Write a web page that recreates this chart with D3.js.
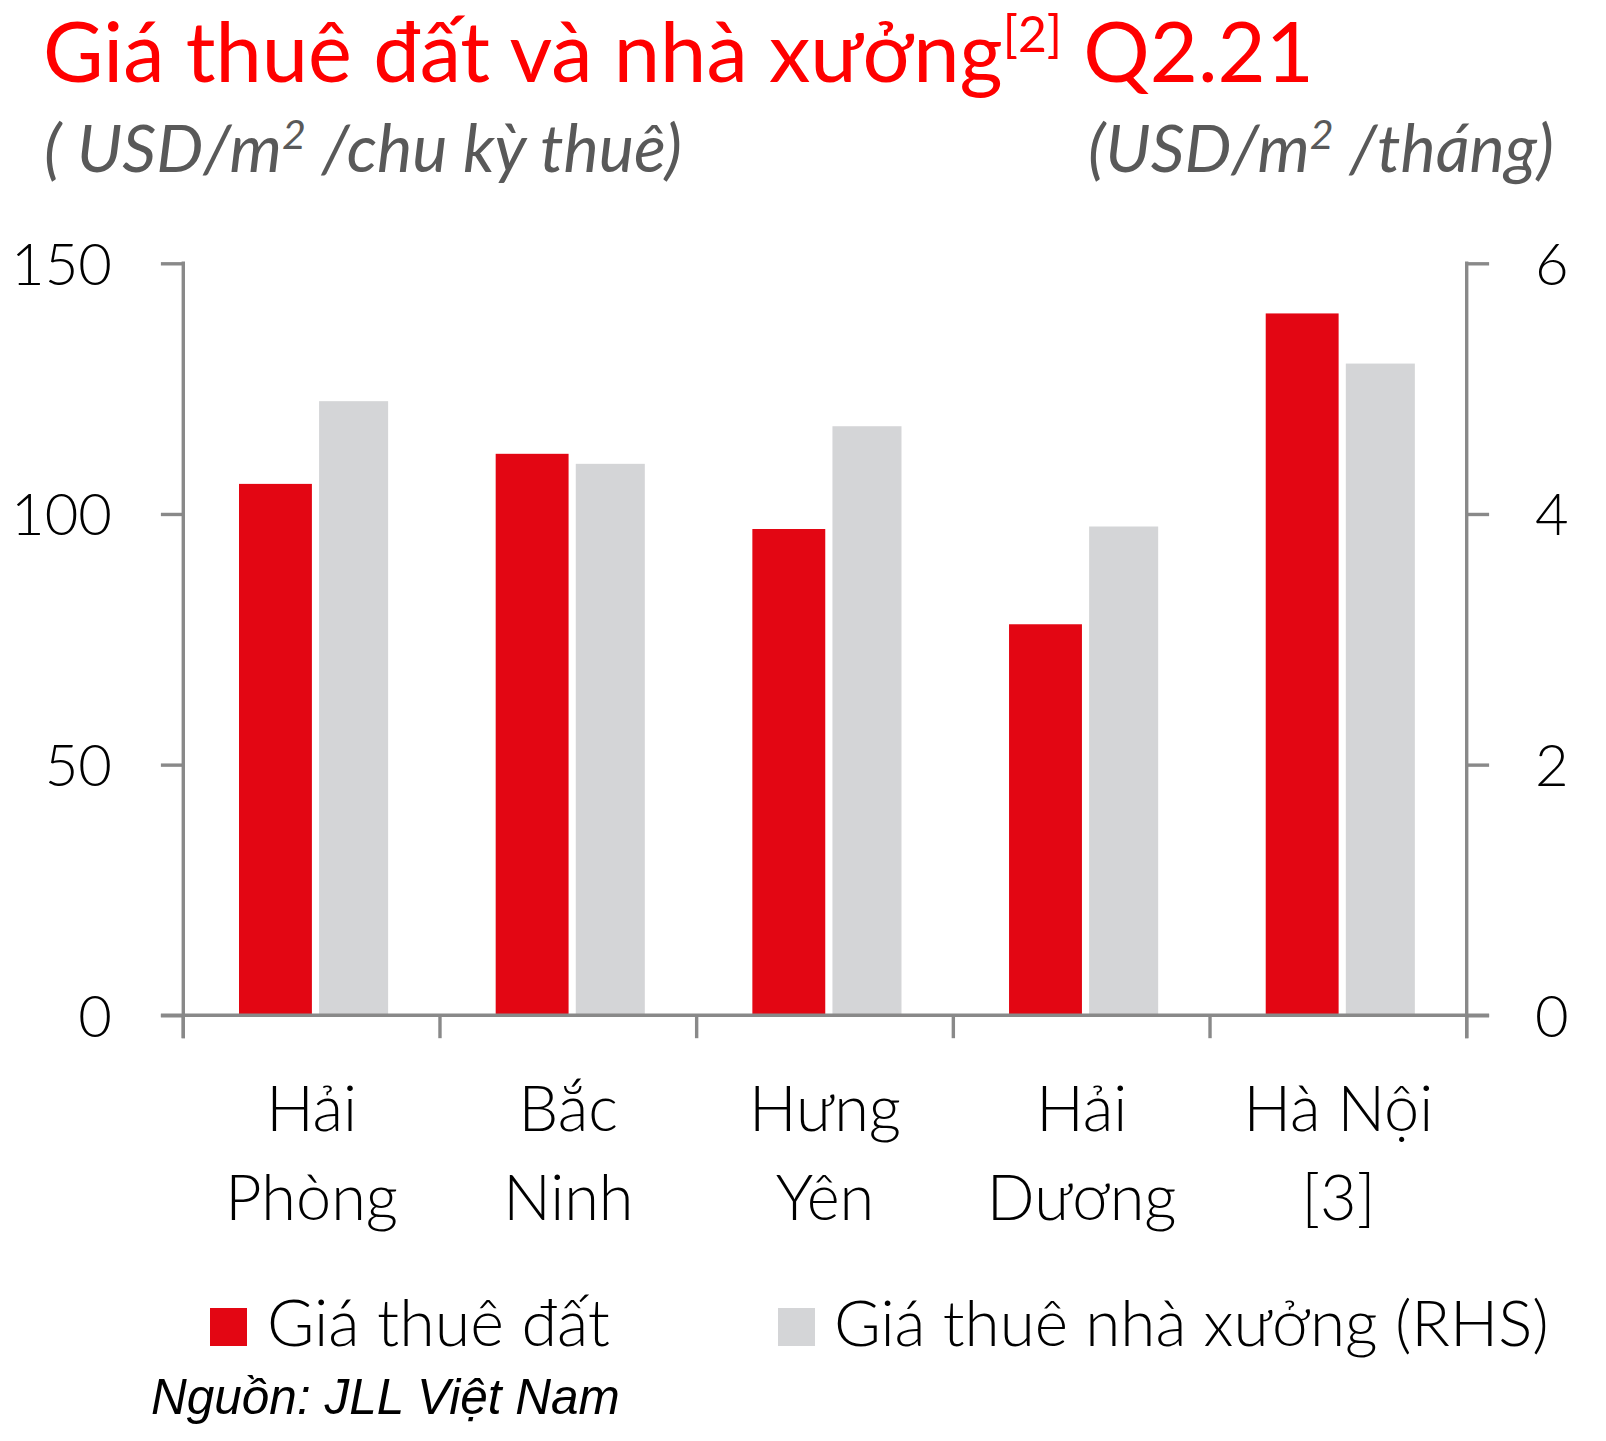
<!DOCTYPE html>
<html>
<head>
<meta charset="utf-8">
<script src="https://cdn.jsdelivr.net/npm/d3@7"></script>
<style>
  html, body { margin: 0; padding: 0; background: #ffffff; }
  svg { display: block; }
</style>
</head>
<body>
<svg id="chart" width="1606" height="1441"></svg>
<script>
// ---------- data ----------
const categories = [["Hải", "Phòng"], ["Bắc", "Ninh"], ["Hưng", "Yên"], ["Hải", "Dương"], ["Hà Nội", "[3]"]];
const landRent = [106, 112, 97, 78, 140];           // USD/m²/chu kỳ thuê (LHS)
const factoryRent = [4.9, 4.4, 4.7, 3.9, 5.2];      // USD/m²/tháng (RHS)
const leftTicks = [0, 50, 100, 150];
const rightTicks = [0, 2, 4, 6];
const seriesNames = ["Giá thuê đất", "Giá thuê nhà xưởng (RHS)"];

// ---------- layout ----------
const svg = d3.select("#chart");
const axisColor = "#898989";
const redColor = "#e30613";
const greyColor = "#d4d5d7";
const labelFont = "Lato, 'Open Sans', sans-serif";
const x0 = 183.3, x1 = 1466.7, yTop = 263.3, yBase = 1015.3;

const keys = categories.map((c, i) => i);
const x = d3.scaleBand().domain(keys).range([x0, x1]).padding(0);
const yL = d3.scaleLinear().domain([0, 150]).range([yBase, yTop]);
const yR = d3.scaleLinear().domain([0, 6]).range([yBase, yTop]);
const bw = x.bandwidth();

function fit(sel, target) {
  const w = sel.node().getComputedTextLength();
  const fs = parseFloat(sel.attr("font-size"));
  sel.attr("font-size", fs * target / w);
  return sel;
}

// ---------- bars ----------
svg.append("g").selectAll("rect").data(landRent).join("rect")
  .attr("x", (d, i) => x(i) + bw * 0.217)
  .attr("width", bw * 0.284)
  .attr("y", d => yL(d))
  .attr("height", d => yBase - yL(d))
  .attr("fill", redColor);

svg.append("g").selectAll("rect").data(factoryRent).join("rect")
  .attr("x", (d, i) => x(i) + bw * 0.529)
  .attr("width", bw * 0.269)
  .attr("y", d => yR(d))
  .attr("height", d => yBase - yR(d))
  .attr("fill", greyColor);

// ---------- axes ----------
const tickLen = 22.4;
const gL = svg.append("g").attr("transform", `translate(${x0},0)`)
  .call(d3.axisLeft(yL).tickValues(leftTicks).tickFormat(d3.format("d")).tickSizeInner(tickLen).tickSizeOuter(0).tickPadding(49));
const gR = svg.append("g").attr("transform", `translate(${x1},0)`)
  .call(d3.axisRight(yR).tickValues(rightTicks).tickFormat(d3.format("d")).tickSizeInner(tickLen).tickSizeOuter(0).tickPadding(46));
[gL, gR].forEach(g => {
  g.select(".domain").remove();
  g.selectAll(".tick line").attr("stroke", axisColor).attr("stroke-width", 3.4);
  g.selectAll(".tick text").attr("fill", "#000").attr("font-family", labelFont)
    .attr("font-weight", 300).attr("font-size", 58).attr("dy", "0.36em");
});
// vertical axis lines
svg.append("line").attr("x1", x0).attr("x2", x0).attr("y1", yTop - 1.7).attr("y2", yBase + tickLen + 0.5)
  .attr("stroke", axisColor).attr("stroke-width", 3.4);
svg.append("line").attr("x1", x1).attr("x2", x1).attr("y1", yTop - 1.7).attr("y2", yBase + tickLen + 0.5)
  .attr("stroke", axisColor).attr("stroke-width", 3.4);
// baseline
svg.append("line").attr("x1", x0 - tickLen).attr("x2", x1 + tickLen).attr("y1", yBase).attr("y2", yBase)
  .attr("stroke", axisColor).attr("stroke-width", 3.4);
// category boundary ticks
const bounds = keys.map(k => x(k)).concat([x(keys[keys.length - 1]) + bw]);
svg.append("g").selectAll("line").data(bounds).join("line")
  .attr("x1", d => d).attr("x2", d => d).attr("y1", yBase).attr("y2", yBase + tickLen + 0.5)
  .attr("stroke", axisColor).attr("stroke-width", 3.4);

// category labels via bottom axis
const gB = svg.append("g").attr("transform", `translate(0,${yBase})`)
  .call(d3.axisBottom(x).tickSize(0).tickFormat(""));
gB.select(".domain").remove();
gB.selectAll(".tick").each(function (d) {
  const t = d3.select(this).append("text")
    .attr("fill", "#000").attr("font-family", labelFont).attr("font-weight", 300)
    .attr("font-size", 63).attr("text-anchor", "middle");
  categories[d].forEach((line, j) => {
    t.append("tspan").attr("x", 0).attr("y", 116 + j * 89).text(line);
  });
});

// ---------- titles ----------
const title = svg.append("text").attr("x", 43).attr("y", 82)
  .attr("fill", "#ff0000").attr("font-family", labelFont).attr("font-size", 80);
title.append("tspan").text("Giá thuê đất và nhà xưởng");
title.append("tspan").attr("font-size", "0.6em").attr("dy", "-0.6em").text("[2]");
title.append("tspan").attr("dy", "0.36em").text(" Q2.21");
fit(title, 1271);

const subL = svg.append("text").attr("x", 44).attr("y", 172)
  .attr("fill", "#595959").attr("font-family", labelFont).attr("font-style", "italic").attr("font-size", 60);
subL.append("tspan").text("( USD/m");
subL.append("tspan").attr("font-size", "0.62em").attr("dy", "-0.55em").text("2");
subL.append("tspan").attr("dy", "0.341em").text(" /chu kỳ thuê)");
fit(subL, 638);

const subR = svg.append("text").attr("x", 1554).attr("y", 172).attr("text-anchor", "end")
  .attr("fill", "#595959").attr("font-family", labelFont).attr("font-style", "italic").attr("font-size", 60);
subR.append("tspan").text("(USD/m");
subR.append("tspan").attr("font-size", "0.62em").attr("dy", "-0.55em").text("2");
subR.append("tspan").attr("dy", "0.341em").text(" /tháng)");
fit(subR, 466);

// ---------- legend ----------
const legendItems = [
  { name: seriesNames[0], color: redColor, sx: 210, tx: 267, w: 343 },
  { name: seriesNames[1], color: greyColor, sx: 778, tx: 834, w: 715 }
];
const lg = svg.append("g");
legendItems.forEach(it => {
  lg.append("rect").attr("x", it.sx).attr("y", 1308).attr("width", 37).attr("height", 38).attr("fill", it.color);
  const t = lg.append("text").attr("x", it.tx).attr("y", 1346).attr("fill", "#000")
    .attr("font-family", labelFont).attr("font-weight", 300).attr("font-size", 62).text(it.name);
  fit(t, it.w);
});

// ---------- source ----------
const src = svg.append("text").attr("x", 151).attr("y", 1414).attr("fill", "#000")
  .attr("font-family", "'Liberation Sans', Arial, sans-serif").attr("font-style", "italic")
  .attr("font-size", 44).text("Nguồn: JLL Việt Nam");
fit(src, 469);
</script>
</body>
</html>
